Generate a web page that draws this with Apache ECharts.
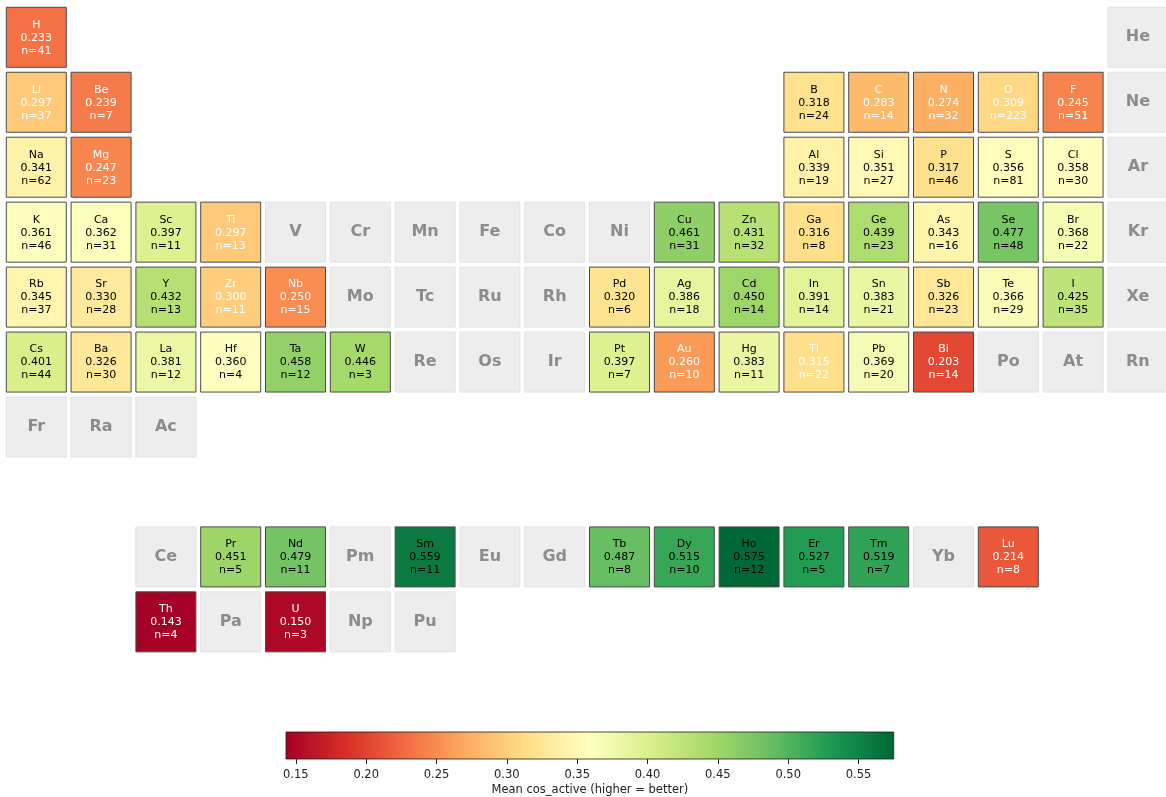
<!DOCTYPE html>
<html>
<head>
<meta charset="utf-8">
<script src="https://cdn.jsdelivr.net/npm/echarts@6/dist/echarts.min.js"></script>
<style>
  html, body { margin: 0; padding: 0; background: #ffffff; }
  #chart { width: 1166px; height: 797px; }
</style>
</head>
<body>
<div id="chart"></div>
<script>
// Periodic-table layout: one array per table row (blank string = empty slot).
const periods = [
  ['H','','','','','','','','','','','','','','','','','He'],
  ['Li','Be','','','','','','','','','','','B','C','N','O','F','Ne'],
  ['Na','Mg','','','','','','','','','','','Al','Si','P','S','Cl','Ar'],
  ['K','Ca','Sc','Ti','V','Cr','Mn','Fe','Co','Ni','Cu','Zn','Ga','Ge','As','Se','Br','Kr'],
  ['Rb','Sr','Y','Zr','Nb','Mo','Tc','Ru','Rh','Pd','Ag','Cd','In','Sn','Sb','Te','I','Xe'],
  ['Cs','Ba','La','Hf','Ta','W','Re','Os','Ir','Pt','Au','Hg','Tl','Pb','Bi','Po','At','Rn'],
  ['Fr','Ra','Ac'],
  [],
  ['','','Ce','Pr','Nd','Pm','Sm','Eu','Gd','Tb','Dy','Ho','Er','Tm','Yb','Lu'],
  ['','','Th','Pa','U','Np','Pu']
];

// Mean cos_active per element.
const meanCos = {
  H: 0.233,
  Li: 0.297, Be: 0.239, B: 0.318, C: 0.283, N: 0.274, O: 0.309, F: 0.245,
  Na: 0.341, Mg: 0.247, Al: 0.339, Si: 0.351, P: 0.317, S: 0.356, Cl: 0.358,
  K: 0.361, Ca: 0.362, Sc: 0.397, Ti: 0.297, Cu: 0.461, Zn: 0.431, Ga: 0.316,
  Ge: 0.439, As: 0.343, Se: 0.477, Br: 0.368,
  Rb: 0.345, Sr: 0.330, Y: 0.432, Zr: 0.300, Nb: 0.250, Pd: 0.320, Ag: 0.386,
  Cd: 0.450, In: 0.391, Sn: 0.383, Sb: 0.326, Te: 0.366, I: 0.425,
  Cs: 0.401, Ba: 0.326, La: 0.381, Hf: 0.360, Ta: 0.458, W: 0.446, Pt: 0.397,
  Au: 0.260, Hg: 0.383, Tl: 0.315, Pb: 0.369, Bi: 0.203,
  Pr: 0.451, Nd: 0.479, Sm: 0.559, Tb: 0.487, Dy: 0.515, Ho: 0.575, Er: 0.527,
  Tm: 0.519, Lu: 0.214,
  Th: 0.143, U: 0.150
};

// Number of samples per element.
const sampleCount = {
  H: 41,
  Li: 37, Be: 7, B: 24, C: 14, N: 32, O: 223, F: 51,
  Na: 62, Mg: 23, Al: 19, Si: 27, P: 46, S: 81, Cl: 30,
  K: 46, Ca: 31, Sc: 11, Ti: 13, Cu: 31, Zn: 32, Ga: 8,
  Ge: 23, As: 16, Se: 48, Br: 22,
  Rb: 37, Sr: 28, Y: 13, Zr: 11, Nb: 15, Pd: 6, Ag: 18,
  Cd: 14, In: 14, Sn: 21, Sb: 23, Te: 29, I: 35,
  Cs: 44, Ba: 30, La: 12, Hf: 4, Ta: 12, W: 3, Pt: 7,
  Au: 10, Hg: 11, Tl: 22, Pb: 20, Bi: 14,
  Pr: 5, Nd: 11, Sm: 11, Tb: 8, Dy: 10, Ho: 12, Er: 5,
  Tm: 7, Lu: 8,
  Th: 4, U: 3
};

const colorbarTicks = [0.15, 0.20, 0.25, 0.30, 0.35, 0.40, 0.45, 0.50, 0.55];
const colorbarTitle = 'Mean cos_active (higher = better)';

// RdYlGn diverging palette
const RDYLGN = ['#a50026','#d73027','#f46d43','#fdae61','#fee08b','#ffffbf',
                '#d9ef8b','#a6d96a','#66bd63','#1a9850','#006837'];

const allValues = Object.values(meanCos);
const vmin = Math.min(...allValues);
const vmax = Math.max(...allValues);
const lightTextBelow = vmin + 0.4 * (vmax - vmin);

const measured = [];
const missing = [];
periods.forEach((row, r) => {
  row.forEach((sym, c) => {
    if (!sym) return;
    if (meanCos[sym] !== undefined) {
      measured.push([c, r, meanCos[sym], sampleCount[sym], sym]);
    } else {
      missing.push([c, r, sym]);
    }
  });
});

const FONT = "'DejaVu Sans', 'Liberation Sans', sans-serif";
const PITCH_X = 64.8, PITCH_Y = 64.95, CELL = 60;
// The last column runs off the right edge of the canvas, so the x range stops short of 17.5.
const X_MAX = -0.5 + (1166 - 3.9) / PITCH_X;

function cellRect(api) {
  const p = api.coord([api.value(0), api.value(1)]);
  const s = api.size([1, 1]);
  const w = s[0] * CELL / PITCH_X, h = s[1] * CELL / PITCH_Y;
  return { cx: p[0], cy: p[1], x: p[0] - w / 2, y: p[1] - h / 2, w, h };
}

const chart = echarts.init(document.getElementById('chart'), null, { renderer: 'canvas' });

chart.setOption({
  animation: false,
  backgroundColor: '#ffffff',
  grid: [
    { left: 3.9, top: 4.825, right: 0, height: 10 * PITCH_Y },
    { left: 286, top: 732, width: 607.7, height: 31 }
  ],
  xAxis: [
    { gridIndex: 0, type: 'value', min: -0.5, max: X_MAX, show: false },
    {
      gridIndex: 1, type: 'value', min: vmin, max: vmax,
      position: 'bottom',
      axisLine: { show: false },
      splitLine: { show: false },
      axisTick: {
        show: true, customValues: colorbarTicks, length: 5,
        lineStyle: { color: '#222', width: 1 }
      },
      axisLabel: {
        customValues: colorbarTicks, fontSize: 11.5, color: '#222', margin: 10,
        fontFamily: FONT, formatter: v => Number(v).toFixed(2)
      },
      name: colorbarTitle,
      nameLocation: 'middle',
      nameGap: 25,
      nameTextStyle: { fontSize: 11.5, color: '#222', fontFamily: FONT }
    }
  ],
  yAxis: [
    { gridIndex: 0, type: 'value', min: -0.5, max: 9.5, inverse: true, show: false },
    { gridIndex: 1, type: 'value', min: 0, max: 1, show: false }
  ],
  visualMap: {
    type: 'continuous', show: false, seriesIndex: 0, dimension: 2,
    min: vmin, max: vmax, inRange: { color: RDYLGN }
  },
  series: [
    {
      name: 'measured',
      type: 'custom',
      xAxisIndex: 0, yAxisIndex: 0,
      data: measured,
      renderItem: function (params, api) {
        const b = cellRect(api);
        const v = api.value(2);
        const txt = api.value(4) + '\n' + v.toFixed(3) + '\nn=' + api.value(3);
        return {
          type: 'group',
          children: [
            {
              type: 'rect',
              shape: { x: b.x, y: b.y, width: b.w, height: b.h },
              style: { fill: api.visual('color'), stroke: '#4a4a4a', lineWidth: 1 }
            },
            {
              type: 'text',
              x: b.cx, y: b.cy + 0.5,
              style: {
                text: txt, align: 'center', verticalAlign: 'middle',
                fontSize: 11, lineHeight: 13, fontFamily: FONT,
                fill: v < lightTextBelow ? '#ffffff' : '#000000'
              }
            }
          ]
        };
      }
    },
    {
      name: 'missing',
      type: 'custom',
      xAxisIndex: 0, yAxisIndex: 0,
      data: missing,
      renderItem: function (params, api) {
        const b = cellRect(api);
        return {
          type: 'group',
          children: [
            {
              type: 'rect',
              shape: { x: b.x, y: b.y, width: b.w, height: b.h },
              style: { fill: '#ededed', stroke: '#e2e2e2', lineWidth: 1 }
            },
            {
              type: 'text',
              x: b.cx, y: b.cy,
              style: {
                text: missing[params.dataIndex][2], align: 'center', verticalAlign: 'middle',
                fontSize: 16, fontWeight: 'bold', fontFamily: FONT, fill: '#8c8c8c'
              }
            }
          ]
        };
      }
    },
    {
      name: 'colorbar',
      type: 'custom',
      xAxisIndex: 1, yAxisIndex: 1,
      data: [[vmin, vmax]],
      renderItem: function (params, api) {
        const p0 = api.coord([api.value(0), 1]);
        const p1 = api.coord([api.value(1), 0]);
        const stops = RDYLGN.map((c, i) => ({ offset: i / (RDYLGN.length - 1), color: c }));
        return {
          type: 'rect',
          shape: { x: p0[0], y: p0[1], width: p1[0] - p0[0], height: p1[1] - p0[1] },
          style: {
            fill: new echarts.graphic.LinearGradient(0, 0, 1, 0, stops),
            stroke: '#1a1a1a', lineWidth: 0.8
          }
        };
      }
    }
  ]
});
</script>
</body>
</html>
